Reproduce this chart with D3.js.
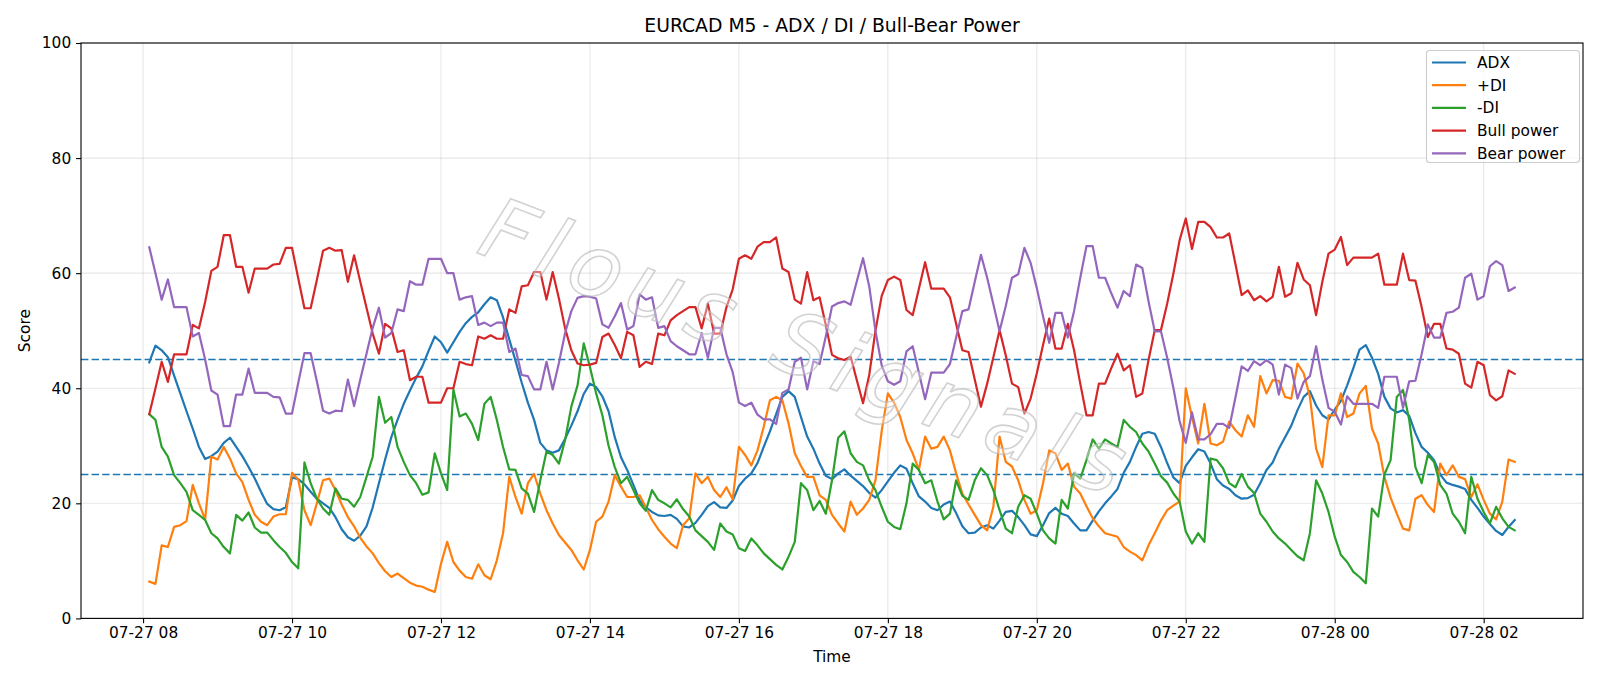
<!DOCTYPE html>
<html>
<head>
<meta charset="utf-8">
<script src="https://cdn.jsdelivr.net/npm/d3@7"></script>
<style>
  body { margin: 0; background: #fff; }
  svg { display: block; font-family: "DejaVu Sans", sans-serif; }
</style>
</head>
<body>
<div id="chart"></div>
<script>
// values, one per 5 minute bar from 07-27 08:05
const adx = [44.5,47.4,46.6,45.4,42.2,39.1,36.0,33.0,29.8,27.7,28.2,29.0,30.5,31.4,29.8,28.2,26.3,24.3,22.0,19.9,
  19.0,18.8,19.3,24.5,24.2,23.3,22.0,20.8,20.0,19.2,17.6,15.5,14.1,13.5,14.4,16.0,19.3,23.5,27.6,31.5,
  34.5,37.3,39.6,41.8,43.8,46.5,49.0,48.0,46.2,48.0,49.8,51.3,52.4,53.2,54.6,55.8,55.3,52.3,48.5,44.8,
  41.0,37.5,34.5,30.5,29.2,28.8,29.2,31.2,33.5,36.0,39.0,40.8,40.2,38.6,36.0,31.5,28.0,25.8,23.2,20.5,
  19.3,18.5,17.9,17.8,18.0,17.3,16.0,15.8,16.6,18.0,19.5,20.2,19.3,19.2,20.5,23.0,24.3,25.2,27.0,29.8,
  32.5,35.5,38.5,39.5,38.5,35.0,31.6,29.5,26.9,24.8,24.2,25.2,25.9,24.8,23.9,23.0,21.8,21.0,22.3,23.8,
  25.3,26.6,26.0,23.5,21.2,20.3,19.2,18.8,19.8,20.3,18.3,16.0,14.8,14.9,15.8,16.2,15.6,17.0,18.5,18.7,
  17.6,16.2,14.6,14.3,16.2,18.3,19.2,18.2,17.8,16.5,15.3,15.3,17.0,18.6,20.0,21.2,22.5,25.3,27.2,29.8,
  32.1,32.4,32.1,29.8,27.0,24.5,23.5,26.5,28.0,29.4,29.0,26.9,24.2,23.1,22.5,21.4,20.8,20.9,21.5,23.5,
  25.8,27.1,29.5,31.5,33.5,36.2,38.5,39.5,37.0,35.3,34.6,36.3,37.8,40.5,43.5,46.7,47.5,45.3,42.5,38.5,
  36.5,35.8,36.2,35.2,32.2,29.8,28.8,27.5,25.0,23.6,23.2,22.9,22.5,20.6,19.2,17.7,16.4,15.2,14.5,15.9,17.1];

const plusDI = [6.4,6.0,12.7,12.4,15.9,16.2,16.9,23.2,20.0,17.2,28.1,27.6,29.8,27.8,25.2,23.7,20.6,18.0,16.8,16.2,
  17.7,18.1,18.1,25.3,24.1,18.8,16.2,20.0,24.0,24.3,22.3,19.8,17.6,16.0,14.0,12.5,11.3,9.6,8.2,7.2,
  7.8,7.0,6.2,5.7,5.5,5.0,4.6,9.5,13.3,9.8,8.3,7.2,6.9,9.4,7.5,6.8,10.1,14.8,24.6,21.1,
  18.2,23.5,25.1,21.7,18.8,16.5,14.5,13.2,11.9,10.1,8.5,11.9,16.8,17.7,20.3,24.9,22.9,21.1,21.1,21.4,
  19.3,17.1,15.5,14.2,13.0,12.2,16.2,17.4,25.2,23.5,24.6,22.3,21.1,22.8,20.7,29.8,28.4,26.6,29.2,33.3,
  37.9,38.5,37.9,33.9,28.7,26.5,24.6,24.6,21.4,20.6,18.0,16.5,15.1,20.3,18.0,19.1,20.6,24.0,32.5,39.1,
  37.5,35.0,31.0,28.7,25.8,31.6,29.5,29.8,31.6,29.2,25.2,21.7,19.8,18.0,16.2,15.3,19.4,31.6,27.2,26.4,
  24.0,20.6,18.2,18.8,23.5,29.2,28.7,25.8,26.9,22.9,21.7,19.5,17.4,16.0,14.8,14.5,14.2,12.4,11.6,11.0,
  10.1,12.7,14.8,17.0,18.8,19.6,20.3,40.0,35.0,30.4,37.3,30.4,30.1,30.7,34.2,32.7,31.6,35.3,33.3,42.1,
  39.1,41.4,41.3,38.5,38.2,44.3,42.6,38.5,29.5,26.3,35.3,35.3,39.1,35.0,35.6,39.1,40.4,33.0,30.4,24.6,
  21.0,18.2,15.6,15.3,20.8,21.4,19.7,18.5,26.9,24.9,26.6,24.6,24.2,21.1,23.3,20.6,18.2,17.2,20.3,27.6,27.2];

const minusDI = [35.5,34.5,29.8,28.1,24.9,23.5,22.0,18.8,18.0,17.1,14.8,13.9,12.4,11.3,18.0,17.0,18.4,15.8,14.9,14.9,
  13.6,12.4,11.4,9.8,8.7,27.1,23.5,20.8,19.1,18.0,22.6,20.8,20.6,19.4,21.1,24.6,28.1,38.5,34.0,35.0,
  29.8,27.2,24.9,23.5,21.5,21.9,28.7,25.2,22.3,39.8,35.1,35.6,33.8,31.0,37.3,38.5,34.5,29.8,25.9,25.8,
  22.6,21.7,18.5,24.0,29.0,28.4,26.9,31.0,36.8,40.5,47.8,43.7,39.1,35.3,30.0,26.3,23.5,24.6,22.3,20.0,
  18.7,22.3,20.6,20.0,19.3,20.7,19.0,17.7,15.3,14.3,13.3,11.9,16.5,15.1,14.6,12.2,11.7,13.9,12.7,11.3,
  10.3,9.3,8.5,10.7,13.3,23.5,22.3,18.8,20.4,18.2,24.0,31.4,32.5,28.7,27.2,26.6,24.0,22.3,19.4,16.8,
  15.9,15.5,20.0,26.9,25.8,23.5,24.0,20.3,17.2,18.2,24.0,21.3,20.6,24.0,26.1,24.9,22.3,18.8,15.6,14.8,
  19.4,21.4,20.8,18.2,15.3,13.9,13.0,20.6,19.1,25.2,24.3,27.5,31.1,29.5,31.1,30.4,29.8,34.5,33.3,32.4,
  30.4,29.0,26.9,24.7,23.6,21.7,20.3,15.1,13.0,14.8,13.3,27.8,27.5,26.1,23.5,22.8,25.1,22.9,21.8,18.2,
  16.8,15.1,13.9,13.0,11.9,10.8,10.1,14.8,24.0,21.7,18.5,14.2,11.0,9.8,8.1,7.2,6.1,19.1,17.7,25.0,
  27.5,38.5,39.7,34.5,26.3,23.5,28.4,27.2,23.2,21.7,18.2,16.8,14.8,24.6,20.8,18.5,16.5,19.4,17.4,15.9,15.3];

const bullPower = [35.5,40.0,44.6,41.1,45.9,45.9,45.9,51.0,50.4,55.0,60.4,61.1,66.6,66.6,61.1,61.1,56.6,60.8,60.8,60.8,
  61.5,61.6,64.4,64.4,59.1,53.9,53.9,58.8,63.9,64.4,63.9,64.0,58.5,63.1,58.5,54.0,49.5,46.0,51.2,50.4,
  46.3,46.6,41.4,42.0,42.0,37.5,37.5,37.5,40.0,40.0,44.6,44.2,44.0,49.0,48.6,49.2,48.6,48.6,53.7,53.1,
  57.7,57.9,60.2,60.2,55.4,60.2,55.6,50.4,46.6,44.3,44.0,44.1,44.4,48.9,49.5,47.5,45.2,49.8,49.2,43.7,
  44.6,44.2,49.5,49.2,51.8,52.7,53.4,54.1,54.1,50.4,54.7,49.5,49.5,54.1,57.2,62.5,63.1,62.5,64.6,65.4,
  65.4,66.2,60.8,60.2,55.4,54.7,60.2,55.3,55.8,51.0,45.8,45.2,44.9,45.5,41.4,37.4,42.3,50.0,56.0,58.8,
  59.4,58.8,53.6,52.7,57.3,61.9,57.3,57.3,57.3,55.8,51.2,46.6,46.3,41.5,36.8,40.8,45.4,50.1,45.7,40.8,
  40.2,35.6,38.2,42.6,47.5,52.1,46.9,46.9,51.2,46.6,40.8,35.3,35.3,40.8,40.8,43.5,46.0,43.1,44.0,38.5,
  39.1,44.9,50.1,50.1,54.7,59.9,65.7,69.5,64.2,68.9,68.9,68.0,66.2,66.2,66.9,61.6,56.2,57.0,55.3,56.0,
  55.1,55.9,61.1,55.9,56.5,61.8,58.9,57.9,52.7,58.5,63.4,64.1,66.3,61.4,62.7,62.7,62.7,62.7,63.4,58.0,
  58.0,58.0,63.4,58.8,58.7,54.1,48.9,51.2,51.2,46.9,46.7,46.0,40.8,40.1,44.6,44.0,38.8,37.9,38.6,43.1,42.5];

const bearPower = [64.5,60.0,55.4,58.9,54.1,54.1,54.1,49.0,49.6,45.0,39.6,38.9,33.4,33.4,38.9,38.9,43.4,39.2,39.2,39.2,
  38.5,38.4,35.6,35.6,40.9,46.1,46.1,41.2,36.1,35.6,36.1,36.0,41.5,36.9,41.5,46.0,50.5,54.0,48.8,49.6,
  53.7,53.4,58.6,58.0,58.0,62.5,62.5,62.5,60.0,60.0,55.4,55.8,56.0,51.0,51.4,50.8,51.4,51.4,46.3,46.9,
  42.3,42.1,39.8,39.8,44.6,39.8,44.4,49.6,53.4,55.7,56.0,55.9,55.6,51.1,50.5,52.5,54.8,50.2,50.8,56.3,
  55.4,55.8,50.5,50.8,48.2,47.3,46.6,45.9,45.9,49.6,45.3,50.5,50.5,45.9,42.8,37.5,36.9,37.5,35.4,34.6,
  34.6,33.8,39.2,39.8,44.6,45.3,39.8,44.7,44.2,49.0,54.2,54.8,55.1,54.5,58.6,62.6,57.7,50.0,44.0,41.2,
  40.6,41.2,46.4,47.3,42.7,38.1,42.7,42.7,42.7,44.2,48.8,53.4,53.7,58.5,63.2,59.2,54.6,49.9,54.3,59.2,
  59.8,64.4,61.8,57.4,52.5,47.9,53.1,53.1,48.8,53.4,59.2,64.7,64.7,59.2,59.2,56.5,54.0,56.9,56.0,61.5,
  60.9,55.1,49.9,49.9,45.3,40.1,34.3,30.5,35.8,31.1,31.1,32.0,33.8,33.8,33.1,38.4,43.8,43.0,44.7,44.0,
  44.9,44.1,38.9,44.1,43.5,38.2,41.1,42.1,47.3,41.5,36.6,35.9,33.7,38.6,37.3,37.3,37.3,37.3,36.6,42.0,
  42.0,42.0,36.6,41.2,41.3,45.9,51.1,48.8,48.8,53.1,53.3,54.0,59.2,59.9,55.4,56.0,61.2,62.1,61.4,56.9,57.5];

const seriesNames = ["ADX", "+DI", "-DI", "Bull power", "Bear power"];
const seriesColors = ["#1f77b4", "#ff7f0e", "#2ca02c", "#d62728", "#9467bd"];
const levels = [45, 25];
const yTicks = [0, 20, 40, 60, 80, 100];

const firstBar = Date.UTC(2025, 6, 27, 8, 5);
const barMs = 5 * 60 * 1000;
const times = adx.map((_, i) => new Date(firstBar + i * barMs));

const width = 1600, height = 686;
const plotLeft = 81, plotRight = 1583, plotTop = 43, plotBottom = 618.4;
const tickFont = "15.4px";

const svg = d3.select("#chart").append("svg")
    .attr("width", width)
    .attr("height", height)
    .attr("viewBox", [0, 0, width, height]);

// matplotlib style 5% margin on the time axis
const t0 = times[0], t1 = times[times.length - 1];
const pad = (t1 - t0) * 0.05;
const x = d3.scaleUtc()
    .domain([new Date(+t0 - pad), new Date(+t1 + pad)])
    .range([plotLeft, plotRight]);

const y = d3.scaleLinear()
    .domain([0, 100])
    .range([plotBottom, plotTop]);

const xTicks = x.ticks(d3.utcHour.every(2));

// grid
const grid = svg.append("g")
    .attr("stroke", "#b0b0b0")
    .attr("stroke-opacity", 0.3)
    .attr("stroke-width", 1.1);
grid.selectAll(".gx").data(xTicks).join("line")
    .attr("x1", d => x(d)).attr("x2", d => x(d))
    .attr("y1", plotTop).attr("y2", plotBottom);
grid.selectAll(".gy").data(yTicks).join("line")
    .attr("x1", plotLeft).attr("x2", plotRight)
    .attr("y1", d => y(d)).attr("y2", d => y(d));

// threshold lines
svg.append("g").selectAll("line")
  .data(levels)
  .join("line")
    .attr("x1", plotLeft).attr("x2", plotRight)
    .attr("y1", d => y(d)).attr("y2", d => y(d))
    .attr("stroke", "#1f77b4")
    .attr("stroke-width", 1.4)
    .attr("stroke-dasharray", "7.4,3.2");

const series = [adx, plusDI, minusDI, bullPower, bearPower];

const line = d3.line()
    .x((d, i) => x(times[i]))
    .y(d => y(d));

svg.append("g")
    .attr("fill", "none")
    .attr("stroke-width", 2.2)
    .attr("stroke-linejoin", "round")
    .attr("stroke-linecap", "square")
  .selectAll("path")
  .data(series)
  .join("path")
    .attr("stroke", (d, i) => seriesColors[i])
    .attr("d", line);

// watermark
svg.append("text")
    .attr("transform", "translate(806,354) rotate(21)")
    .attr("text-anchor", "middle")
    .attr("dominant-baseline", "middle")
    .style("font-family", "'DejaVu Sans'")
    .style("font-style", "oblique")
    .style("font-size", "86px")
    .style("letter-spacing", "10px")
    .attr("fill", "#fff")
    .attr("fill-opacity", 0.35)
    .attr("stroke", "#b4b4b4")
    .attr("stroke-opacity", 0.6)
    .attr("stroke-width", 1.6)
    .text("Flous Signals");

// axes
const xAxis = svg.append("g")
    .attr("transform", `translate(0,${plotBottom})`)
    .call(d3.axisBottom(x).tickValues(xTicks).tickFormat(d3.utcFormat("%m-%d %H"))
      .tickSize(4.9).tickPadding(4.2).tickSizeOuter(0));
const yAxis = svg.append("g")
    .attr("transform", `translate(${plotLeft},0)`)
    .call(d3.axisLeft(y).tickValues(yTicks).tickSize(4.9).tickPadding(4.9).tickSizeOuter(0));

[xAxis, yAxis].forEach(g => {
  g.select(".domain").remove();
  g.selectAll(".tick line").attr("stroke", "#000").attr("stroke-width", 1.1);
  g.selectAll(".tick text").attr("fill", "#000")
    .style("font-size", tickFont).style("font-family", "'DejaVu Sans'");
});

svg.append("rect")
    .attr("x", plotLeft).attr("y", plotTop)
    .attr("width", plotRight - plotLeft).attr("height", plotBottom - plotTop)
    .attr("fill", "none")
    .attr("stroke", "#000")
    .attr("stroke-width", 1.1);

// labels
svg.append("text")
    .attr("x", (plotLeft + plotRight) / 2).attr("y", 32)
    .attr("text-anchor", "middle")
    .style("font-size", "18.8px")
    .text("EURCAD M5 - ADX / DI / Bull-Bear Power");

svg.append("text")
    .attr("x", (plotLeft + plotRight) / 2).attr("y", 662)
    .attr("text-anchor", "middle")
    .style("font-size", tickFont)
    .text("Time");

svg.append("text")
    .attr("transform", `translate(30,${(plotTop + plotBottom) / 2}) rotate(-90)`)
    .attr("text-anchor", "middle")
    .style("font-size", tickFont)
    .text("Score");

// legend
const legend = svg.append("g");
legend.append("rect")
    .attr("x", 1426.5).attr("y", 50.5)
    .attr("width", 153).attr("height", 112)
    .attr("rx", 3)
    .attr("fill", "#fff").attr("fill-opacity", 0.8)
    .attr("stroke", "#cccccc").attr("stroke-width", 1.1);

const item = legend.selectAll(".item")
  .data(seriesNames)
  .join("g")
    .attr("transform", (d, i) => `translate(1432,${62.5 + i * 22.7})`);
item.append("line")
    .attr("x1", 0).attr("x2", 34)
    .attr("stroke", (d, i) => seriesColors[i])
    .attr("stroke-width", 2.2);
item.append("text")
    .attr("x", 45).attr("dy", "0.35em")
    .style("font-size", tickFont)
    .text(d => d);
</script>
</body>
</html>
